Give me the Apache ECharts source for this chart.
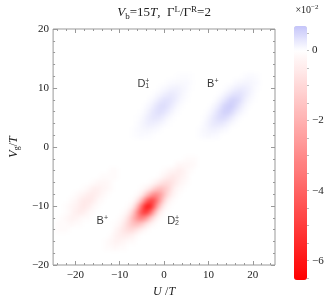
<!DOCTYPE html>
<html>
<head>
<meta charset="utf-8">
<script src="https://cdn.jsdelivr.net/npm/echarts@6/dist/echarts.min.js"></script>
<style>
  html, body { margin: 0; padding: 0; background: #fff; }
  #chart { width: 332px; height: 305px; }
</style>
</head>
<body>
<div id="chart"></div>
<script>
  // cell values in units of 1e-3, one cell per unit of U and Vg
  // each row: [Vg, first U, values along U]
  const D2_ROWS = [
    [-17, -13, [-1, -1, -2, -1, -1]],
    [-16, -13, [-1, -2, -3, -3, -2, -1, -1]],
    [-15, -12, [-1, -3, -4, -5, -4, -3, -1]],
    [-14, -11, [-2, -4, -7, -9, -9, -6, -3, -1]],
    [-13, -11, [-1, -2, -6, -11, -16, -17, -13, -7, -3, -1]],
    [-12, -10, [-1, -3, -9, -19, -29, -33, -26, -13, -5, -1]],
    [-11, -9, [-1, -4, -13, -30, -47, -52, -37, -17, -5, -1]],
    [-10, -8, [-1, -5, -18, -40, -61, -57, -35, -15, -4, -1]],
    [-9, -7, [-1, -6, -19, -38, -49, -43, -26, -11, -3, -1]],
    [-8, -6, [-1, -5, -14, -25, -31, -27, -17, -8, -3, -1]],
    [-7, -5, [-1, -3, -7, -13, -17, -15, -11, -5, -2, -1]],
    [-6, -3, [-1, -3, -6, -9, -9, -7, -4, -2, -1]],
    [-5, -1, [-1, -3, -5, -6, -5, -3, -2]],
    [-4, 0, [-1, -2, -3, -4, -4, -2, -1]],
    [-3, 3, [-2, -2, -2, -2, -1]],
    [-2, 5, [-1, -1, -1]]
  ];
  const B_LOW_ROWS = [
    [-14, -24, [-1, -1, -1]],
    [-13, -24, [-1, -1, -1, -2, -1, -1]],
    [-12, -23, [-1, -2, -3, -3, -2, -1, -1]],
    [-11, -22, [-1, -2, -4, -5, -4, -2, -1]],
    [-10, -22, [-1, -2, -3, -5, -6, -5, -2, -1]],
    [-9, -21, [-1, -2, -4, -6, -6, -5, -2, -1]],
    [-8, -20, [-1, -2, -3, -5, -5, -4, -2, -1]],
    [-7, -18, [-1, -2, -4, -4, -3, -2, -1]],
    [-6, -16, [-1, -2, -2, -2, -1]],
    [-5, -14, [-1, -1, -1, -1]],
    [-4, -12, [-1, -1]]
  ];
  const D1_ROWS = [
    [2, -7, [0.3, 0.5, 0.6, 0.5, 0.4]],
    [3, -7, [0.3, 0.6, 0.9, 1.1, 1.0, 0.7, 0.4]],
    [4, -6, [0.5, 1.1, 1.7, 2.0, 1.8, 1.3, 0.7, 0.3]],
    [5, -6, [0.3, 0.8, 1.7, 2.6, 3.0, 2.7, 1.8, 0.9, 0.3]],
    [6, -5, [0.4, 1.1, 2.3, 3.4, 3.9, 3.4, 2.1, 1.0, 0.4]],
    [7, -4, [0.6, 1.3, 2.7, 3.8, 4.1, 3.3, 2.0, 0.9, 0.3]],
    [8, -3, [0.6, 1.4, 2.5, 3.5, 3.5, 2.8, 1.6, 0.7, 0.3]],
    [9, -2, [0.5, 1.1, 1.9, 2.5, 2.5, 1.9, 1.1, 0.5]],
    [10, -1, [0.3, 0.7, 1.2, 1.6, 1.5, 1.2, 0.7, 0.3]],
    [11, 1, [0.4, 0.6, 0.8, 0.8, 0.7, 0.4]],
    [12, 3, [0.3, 0.4, 0.4, 0.3]]
  ];
  const B_UP_ROWS = [
    [2, 8, [0.4, 0.7, 0.9, 0.7, 0.6]],
    [3, 8, [0.4, 0.9, 1.3, 1.6, 1.4, 1.0, 0.6]],
    [4, 9, [0.7, 1.6, 2.5, 2.9, 2.6, 1.9, 1.0, 0.4]],
    [5, 9, [0.4, 1.2, 2.5, 3.8, 4.4, 3.9, 2.6, 1.3, 0.4]],
    [6, 10, [0.6, 1.6, 3.3, 4.9, 5.7, 4.9, 3.0, 1.5, 0.6]],
    [7, 11, [0.9, 1.9, 3.9, 5.5, 5.9, 4.8, 2.9, 1.3, 0.4]],
    [8, 12, [0.9, 2.0, 3.6, 5.1, 5.1, 4.1, 2.3, 1.0, 0.4]],
    [9, 13, [0.7, 1.6, 2.8, 3.6, 3.6, 2.8, 1.6, 0.7]],
    [10, 14, [0.4, 1.0, 1.7, 2.3, 2.2, 1.7, 1.0, 0.4]],
    [11, 16, [0.6, 0.9, 1.2, 1.2, 1.0, 0.6]],
    [12, 18, [0.4, 0.6, 0.6, 0.4]]
  ];

  // labels next to the peaks: [U, Vg, letter, subscript]
  const TAGS = [
    [-6.0, 10.7, 'D', '1'],
    [9.7, 10.6, 'B', ''],
    [-15.2, -12.5, 'B', ''],
    [0.7, -12.5, 'D', '2']
  ];

  const X_MAJOR = [-20, -10, 0, 10, 20];
  const X_MINOR = [-24, -22, -20, -18, -16, -14, -12, -10, -8, -6, -4, -2, 0, 2, 4, 6, 8, 10, 12, 14, 16, 18, 20, 22, 24];
  const Y_MAJOR = [-20, -10, 0, 10, 20];
  const Y_MINOR = [-20, -18, -16, -14, -12, -10, -8, -6, -4, -2, 0, 2, 4, 6, 8, 10, 12, 14, 16, 18, 20];
  const BAR_LABELS = [-6, -4, -2, 0];
  const BAR_TICKS = [-6.5, -6, -5.5, -5, -4.5, -4, -3.5, -3, -2.5, -2, -1.5, -1, -0.5, 0, 0.5];
  const BAR_MIN = -6.55, BAR_MAX = 0.7;   // x1e-2

  const SERIF = "'Liberation Serif', 'Times New Roman', serif";
  const SANS = "'Liberation Sans', Arial, sans-serif";
  const FRAME = '#999';
  const TXT = '#222';

  // flatten rows into [U, Vg, value] cells
  const cells = [];
  [D2_ROWS, B_LOW_ROWS, D1_ROWS, B_UP_ROWS].forEach(function (rows) {
    rows.forEach(function (r) {
      r[2].forEach(function (v, i) { cells.push([r[1] + i, r[0], v]); });
    });
  });

  // white -> red below zero, white -> pale blue above
  const palette = [];
  const vMin = BAR_MIN * 10, vMax = BAR_MAX * 10, step = 0.5;
  for (let v = vMin; v <= vMax + 1e-9; v += step) {
    if (v <= 0) {
      const c = Math.round(255 * (1 - v / vMin));
      palette.push('rgb(255,' + c + ',' + c + ')');
    } else {
      const t = v / vMax;
      palette.push('rgb(' + Math.round(255 - 59 * t) + ',' + Math.round(255 - 59 * t) + ',' + Math.round(255 - 5 * t) + ')');
    }
  }

  const minus = function (v) { return String(v).replace('-', '\u2212'); };

  function rich(size) {
    return {
      i: { fontFamily: SERIF, fontStyle: 'italic', fontSize: size, color: TXT },
      n: { fontFamily: SERIF, fontSize: size, color: TXT },
      s: { fontFamily: SERIF, fontSize: Math.round(size * 0.7), color: TXT, padding: [Math.round(size * 0.5), 0, 0, 0] },
      u: { fontFamily: SERIF, fontSize: Math.round(size * 0.7), color: TXT, padding: [0, 0, Math.round(size * 0.55), 0] }
    };
  }

  function tickAxis(gridIndex, position, ticks, len, extra) {
    return Object.assign({
      type: 'value',
      gridIndex: gridIndex,
      position: position,
      zlevel: 1,
      axisLine: { show: false, onZero: false },
      splitLine: { show: false },
      axisTick: { show: true, inside: true, length: len, customValues: ticks, lineStyle: { color: FRAME, width: 1 } },
      axisLabel: { show: false }
    }, extra);
  }

  const numLabel = function (vals, margin) {
    return { show: true, customValues: vals, formatter: minus, margin: margin, fontFamily: SERIF, fontSize: 11, color: TXT };
  };

  const xr = { min: -25, max: 25 };
  const yr = { min: -20, max: 20 };

  const chart = echarts.init(document.getElementById('chart'));
  chart.setOption({
    animation: false,
    backgroundColor: '#fff',
    grid: [
      { left: 38, top: 27, width: 237, height: 238, show: true, borderColor: FRAME, borderWidth: 1, zlevel: 1 },
      { left: 294, top: 26, width: 13, height: 254, zlevel: 1 }
    ],
    xAxis: [
      tickAxis(0, 'bottom', X_MAJOR, 4, Object.assign({
        axisLabel: numLabel(X_MAJOR, 5),
        name: '{i|U} {n|/}{i|T}', nameLocation: 'middle', nameGap: 21,
        nameTextStyle: { rich: rich(12) }
      }, xr)),
      tickAxis(0, 'bottom', X_MINOR, 2, xr),
      tickAxis(0, 'top', X_MAJOR, 4, Object.assign({
        name: '{i|V}{s|b}{n|=15}{i|T}{n|,  Γ}{u|L}{n|/Γ}{u|R}{n|=2}', nameLocation: 'middle', nameGap: 8,
        nameTextStyle: { rich: rich(13) }
      }, xr)),
      tickAxis(0, 'top', X_MINOR, 2, xr),
      { type: 'value', gridIndex: 1, min: 0, max: 1, show: false }
    ],
    yAxis: [
      tickAxis(0, 'left', Y_MAJOR, 4, Object.assign({
        axisLabel: numLabel(Y_MAJOR, 4),
        name: '{i|V}{s|g}{n|/}{i|T}', nameLocation: 'middle', nameGap: 22, nameRotate: 90,
        nameTextStyle: { rich: rich(12) }
      }, yr)),
      tickAxis(0, 'left', Y_MINOR, 2, yr),
      tickAxis(0, 'right', Y_MAJOR, 4, yr),
      tickAxis(0, 'right', Y_MINOR, 2, yr),
      tickAxis(1, 'right', BAR_TICKS, 2, {
        min: BAR_MIN, max: BAR_MAX,
        axisTick: { show: true, inside: false, length: 2, customValues: BAR_TICKS, lineStyle: { color: '#bbb' } },
        axisLabel: numLabel(BAR_LABELS, 5),
        name: '{n|×10}{u|\u22122}', nameLocation: 'end', nameGap: 9,
        nameTextStyle: { rich: rich(10) }
      })
    ],
    visualMap: {
      type: 'continuous',
      seriesIndex: 0,
      dimension: 2,
      min: vMin,
      max: vMax,
      calculable: false,
      hoverLink: false,
      orient: 'vertical',
      left: 294,
      top: 26,
      itemWidth: 13,
      itemHeight: 254,
      padding: 0,
      zlevel: 1,
      inRange: { color: palette }
    },
    series: [
      {
        type: 'custom',
        xAxisIndex: 0,
        yAxisIndex: 0,
        zlevel: 0,
        silent: true,
        data: cells,
        encode: { x: 0, y: 1 },
        renderItem: function (params, api) {
          const x = api.value(0), y = api.value(1);
          const a = api.coord([x - 0.5, y + 0.5]);
          const b = api.coord([x + 0.5, y - 0.5]);
          return {
            type: 'rect',
            shape: { x: a[0], y: a[1], width: b[0] - a[0] + 0.4, height: b[1] - a[1] + 0.4 },
            style: { fill: api.visual('color') }
          };
        }
      },
      {
        type: 'scatter',
        xAxisIndex: 0,
        yAxisIndex: 0,
        zlevel: 1,
        silent: true,
        symbolSize: 0,
        data: TAGS.map(function (t) { return [t[0], t[1]]; }),
        label: {
          show: true,
          position: [0, 0],
          align: 'left',
          verticalAlign: 'middle',
          formatter: function (p) {
            const t = TAGS[p.dataIndex];
            return t[3] ? '{m|' + t[2] + '}{up|+}{dn|' + t[3] + '}' : '{m|' + t[2] + '}{sp|+}';
          },
          rich: {
            m: { fontFamily: SANS, fontSize: 11, color: '#000' },
            up: { fontFamily: SANS, fontSize: 7, color: '#000', width: 0, padding: [0, 0, 6, 0] },
            dn: { fontFamily: SANS, fontSize: 7, color: '#000', padding: [5, 0, 0, 0] },
            sp: { fontFamily: SANS, fontSize: 7, color: '#000', padding: [0, 0, 6, 0] }
          }
        }
      }
    ]
  });

  // soften the cell grid so the density looks continuous
  const base = chart.getDom().querySelector('canvas[data-zr-dom-id="zr_0"]');
  if (base) base.style.filter = 'blur(2px)';
</script>
</body>
</html>
